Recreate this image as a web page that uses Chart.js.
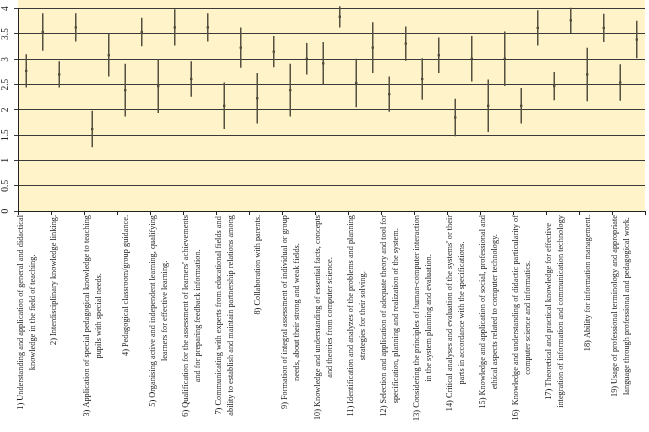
<!DOCTYPE html>
<html>
<head>
<meta charset="utf-8">
<script src="https://cdn.jsdelivr.net/npm/chart.js"></script>
<style>
  body { margin: 0; background: #fff; }
  #wrap { width: 649px; height: 432px; }
</style>
</head>
<body>
<div id="wrap"><canvas id="myChart"></canvas></div>
<script>
// categories (each label is a list of lines)
const categoryLabels = [
    ['1) Understanding and application of general and didactical', 'knowledge in the field of teaching.'],
    ['2) Interdisciplinary knowledge linking.', ''],
    ['3) Application of special pedagogical knowledge to teaching', 'pupils with special needs.'],
    ['4) Pedagogical classroom/group guidance.'],
    ['5) Organising active and independent learning, qualifying', 'learners for effective learning.'],
    ["6) Qualification for the assessment of learners' achievements", 'and for preparing feedback information.'],
    ['7) Communicating with experts from educational fields and', 'ability to establish and maintain partnership relations among'],
    ['8) Collaboration with parents.'],
    ['9) Formation of integral assessment of individual or group', 'needs, about their strong and weak fields.'],
    ['10) Knowledge and understanding of essential facts, concepts', 'and theories from computer science.'],
    ['11) Identification and analyzes of the problems and planning', 'strategies for their solving.'],
    ['12) Selection and application of adequate theory and tool for', 'specification, planning and realization of the system.'],
    ['13) Considering the principles of human-computer interaction', 'in the system planning and evaluation.'],
    ["14) Critical analyses and evaluation of the systems' or their", 'parts in accordance with the specifications.'],
    ['15) Knowledge and application of social, professional and', 'ethical aspects related to computer technology.'],
    ['16)  Knowledge and understanding of didactic particularity of', 'computer science and informatics.'],
    ['17) Theoretical and practical knowledge for effective', 'integration of information and communication technology'],
    ['18) Ability for information management.'],
    ['19) Usage of professional terminology and appropriate', 'language through professional and pedagogical work.']
];

// first series (left of each pair): mean and spread
const meanA = [2.77, 2.70, 1.62, 2.39, 2.47, 2.61, 2.08, 2.23, 2.39, 2.92, 2.53, 2.31, 2.61, 1.85, 2.08, 2.08, 2.47, 2.70, 2.54];
const sdA = [0.33, 0.26, 0.36, 0.52, 0.53, 0.35, 0.46, 0.50, 0.52, 0.42, 0.48, 0.35, 0.41, 0.37, 0.52, 0.35, 0.28, 0.53, 0.36];

// second series (right of each pair)
const meanB = [3.54, 3.63, 3.08, 3.54, 3.63, 3.63, 3.23, 3.15, 3.01, 3.84, 3.23, 3.31, 3.08, 3.01, 3.01, 3.62, 3.77, 3.62, 3.39];
const sdB = [0.37, 0.28, 0.42, 0.28, 0.36, 0.28, 0.40, 0.31, 0.31, 0.21, 0.50, 0.34, 0.35, 0.45, 0.54, 0.35, 0.25, 0.28, 0.37];

const yTickLabels = ['0', '0.5', '1', '1.5', '2', '2.5', '3', '3.5', '4'];


const cream = '#fff3c9';
const whiskerColor = '#55503f';
const gridColor = '#3a3a3a';
const serif = '"Liberation Serif", "Times New Roman", serif';

// whisker from mean - sd to mean + sd, placed at category index +/- shift
function whiskers(means, sds, shift) {
    return means.map((m, i) => ({ x: i + shift, y: [m - sds[i], m + sds[i]] }));
}

function meanPoints(means, shift) {
    return means.map((m, i) => ({ x: i + shift, y: m }));
}

// cream plot background
const plotBackground = {
    id: 'plotBackground',
    beforeDraw(chart) {
        const { ctx, chartArea } = chart;
        ctx.save();
        ctx.fillStyle = cream;
        ctx.fillRect(chartArea.left, 0, chartArea.right - chartArea.left, chartArea.bottom);
        ctx.restore();
    }
};

// rotated category labels, lines centred on each other, block hanging from the axis
const categoryText = {
    id: 'categoryText',
    afterDraw(chart) {
        const { ctx } = chart;
        const x = chart.scales.x;
        const half = (x.getPixelForValue(1) - x.getPixelForValue(0)) / 2;
        ctx.save();
        ctx.font = '8.3px ' + serif;
        ctx.fillStyle = '#1a1a1a';
        ctx.textAlign = 'center';
        ctx.textBaseline = 'middle';
        categoryLabels.forEach((lines, i) => {
            const left = x.getPixelForValue(i) - half;
            const widest = Math.max(...lines.map(l => ctx.measureText(l).width));
            const cy = x.top + 4 + widest / 2;
            lines.forEach((line, k) => {
                const lx = left + 8.5 + (k - (lines.length - 1) / 2) * 12;
                ctx.save();
                ctx.translate(lx, cy);
                ctx.rotate(-Math.PI / 2);
                ctx.fillText(line, 0, 0);
                ctx.restore();
            });
        });
        ctx.restore();
    }
};

const pointStyle = {
    type: 'scatter',
    xAxisID: 'xp',
    pointStyle: 'rect',
    pointRadius: 1.5,
    pointBorderWidth: 0,
    pointBackgroundColor: '#111',
    clip: false
};

const barStyle = {
    type: 'bar',
    xAxisID: 'xp',
    grouped: false,
    backgroundColor: whiskerColor,
    borderWidth: 0,
    maxBarThickness: 1.5,
    clip: false
};

new Chart(document.getElementById('myChart'), {
    type: 'bar',
    data: {
        labels: categoryLabels,
        datasets: [
            { ...barStyle, data: whiskers(meanA, sdA, -0.25) },
            { ...barStyle, data: whiskers(meanB, sdB, 0.25) },
            { ...pointStyle, data: meanPoints(meanA, -0.25) },
            { ...pointStyle, data: meanPoints(meanB, 0.25) }
        ]
    },
    options: {
        responsive: true,
        maintainAspectRatio: false,
        animation: false,
        events: [],
        layout: { padding: { top: 3, left: 0, right: 0, bottom: 0 } },
        plugins: { legend: { display: false }, tooltip: { enabled: false } },
        scales: {
            x: {
                type: 'category',
                offset: true,
                afterFit: s => { s.height = 221; },
                ticks: { display: false },
                grid: { offset: true, drawOnChartArea: false, tickLength: 4, color: '#222' },
                border: { color: '#222' }
            },
            xp: {
                type: 'linear',
                display: false,
                offset: false,
                min: -0.5,
                max: categoryLabels.length - 0.5
            },
            y: {
                min: 0,
                max: 4,
                afterFit: s => { s.width = 18; },
                ticks: {
                    stepSize: 0.5,
                    minRotation: 90,
                    maxRotation: 90,
                    crossAlign: 'center',
                    padding: 3,
                    color: '#222',
                    font: { family: serif, size: 9.5 },
                    callback: v => yTickLabels[Math.round(v * 2)]
                },
                grid: { color: gridColor, tickLength: 4 },
                border: { color: '#222' }
            }
        }
    },
    plugins: [plotBackground, categoryText]
});
</script>
</body>
</html>
